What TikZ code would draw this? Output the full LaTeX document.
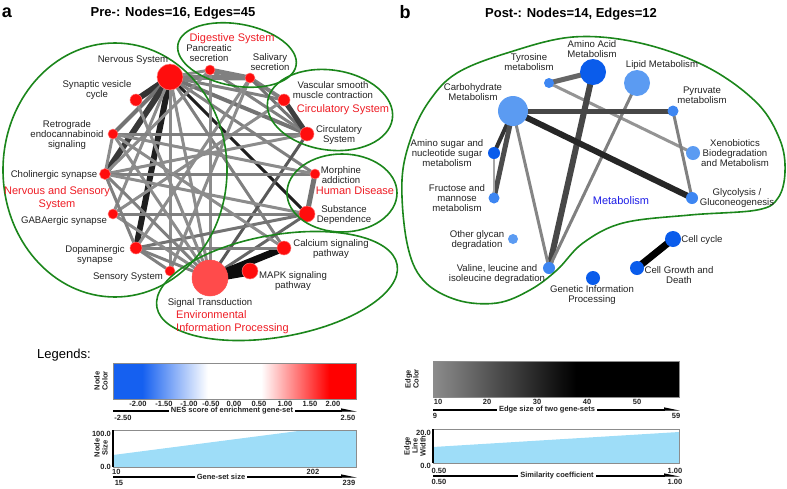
\documentclass[tikz,border=0pt]{standalone}
\usepackage{fontspec}
\setmainfont{Liberation Sans}
\usetikzlibrary{arrows.meta,backgrounds}
\definecolor{NodeRed}{HTML}{FF0D0D}
\definecolor{SigRed}{HTML}{FF4B4B}
\definecolor{HullGreen}{HTML}{1B861B}
\definecolor{GroupRed}{HTML}{EE1C24}
\definecolor{MetaBlue}{HTML}{1C1CE6}
\definecolor{DeepBlue}{HTML}{0A5CEB}
\definecolor{MidBlue}{HTML}{3D86F2}
\definecolor{PaleBlue}{HTML}{5B9BF2}
\definecolor{NesBlue}{HTML}{1560F0}
\definecolor{SizeFill}{HTML}{9EDDF8}
\definecolor{DarkText}{HTML}{222222}
\pgfdeclarehorizontalshading{nesbar}{100bp}{color(0bp)=(NesBlue); color(25bp)=(NesBlue); color(31bp)=(NesBlue); color(44.5bp)=(white); color(55.5bp)=(white); color(69.5bp)=(red); color(75bp)=(red); color(100bp)=(red)}
\pgfdeclarehorizontalshading{edgebar}{100bp}{color(0bp)=(black!45); color(25bp)=(black!45); color(54bp)=(black); color(100bp)=(black)}
\tikzset{
  rnode/.style={circle, fill=NodeRed, draw=NodeRed!55!white, line width=0.5pt, inner sep=0pt, minimum size=#1},
  bnode/.style 2 args={circle, fill=#2, inner sep=0pt, minimum size=#1},
  lnk/.style 2 args={draw=black!#2, line width=#1pt},
  hull/.style={draw=HullGreen, line width=1.6pt},
  lbl/.style={font=\fontsize{9.6}{10.2}\selectfont, text=DarkText, align=center, inner sep=0pt},
  grp/.style={font=\fontsize{11}{12.5}\selectfont, text=GroupRed, align=center, inner sep=0pt},
  ttl/.style={font=\fontsize{13}{15}\bfseries\selectfont, inner sep=0pt},
  pan/.style={font=\fontsize{18}{20}\bfseries\selectfont, inner sep=0pt},
  lg/.style={font=\fontsize{7.5}{8}\bfseries\selectfont, text=DarkText, align=center, inner sep=0pt},
  axarr/.style={line width=1.1pt, -{Triangle[length=13pt,width=5pt,left]}},
  axtxt/.style={lg, fill=white, inner xsep=2pt, inner ysep=1pt}
}
\begin{document}
\begin{tikzpicture}[x=1pt, y=-1pt]
\useasboundingbox (0,0) rectangle (787,488);

% panel titles
\node[pan] (pa) at (7,13) {a};
\node[ttl] (ta) at (173,13) {Pre-: Nodes=16, Edges=45};
\node[pan] (pb) at (405,12) {b};
\node[ttl] (tb) at (571,14) {Post-: Nodes=14, Edges=12};

% ---- pre- network
\node[rnode=26pt] (nerv) at (170,77) {};
\node[rnode=10pt] (panc) at (210,70) {};
\node[rnode=10pt] (saliv) at (250,78) {};
\node[rnode=12pt] (vasc) at (284,100) {};
\node[rnode=14pt] (circ) at (307,134) {};
\node[rnode=10pt] (morph) at (315,174) {};
\node[rnode=16pt] (subst) at (307,214) {};
\node[rnode=14pt] (calc) at (284,248) {};
\node[rnode=16pt] (mapk) at (250,271) {};
\node[rnode=36pt, fill=SigRed, draw=SigRed] (sig) at (210,278) {};
\node[rnode=10pt] (sens) at (170,271) {};
\node[rnode=12pt] (dopa) at (136,248) {};
\node[rnode=10pt] (gaba) at (113,214) {};
\node[rnode=11pt] (chol) at (105,174) {};
\node[rnode=10pt] (retro) at (113,134) {};
\node[rnode=12pt] (synv) at (136,100) {};

\begin{pgfonlayer}{background}
\draw[lnk={6}{80}] (nerv.center) -- (synv.center);
\draw[lnk={4}{55}] (nerv.center) -- (retro.center);
\draw[lnk={6}{78}] (nerv.center) -- (chol.center);
\draw[lnk={6}{88}] (nerv.center) -- (dopa.center);
\draw[lnk={3}{45}] (nerv.center) -- (sens.center);
\draw[lnk={3}{45}] (nerv.center) -- (sig.center);
\draw[lnk={3}{88}] (nerv.center) -- (subst.center);
\draw[lnk={3}{50}] (nerv.center) -- (calc.center);
\draw[lnk={4}{55}] (nerv.center) -- (circ.center);
\draw[lnk={3}{50}] (nerv.center) -- (vasc.center);
\draw[lnk={5}{50}] (nerv.center) -- (saliv.center);
\draw[lnk={3}{45}] (nerv.center) -- (panc.center);
\draw[lnk={3}{50}] (nerv.center) -- (morph.center);
\draw[lnk={3}{45}] (nerv.center) -- (gaba.center);
\draw[lnk={5}{50}] (panc.center) -- (saliv.center);
\draw[lnk={3}{45}] (panc.center) -- (sig.center);
\draw[lnk={3}{50}] (panc.center) -- (circ.center);
\draw[lnk={3}{45}] (panc.center) -- (chol.center);
\draw[lnk={4}{50}] (saliv.center) -- (vasc.center);
\draw[lnk={3}{55}] (saliv.center) -- (circ.center);
\draw[lnk={3}{45}] (saliv.center) -- (dopa.center);
\draw[lnk={3}{45}] (saliv.center) -- (sens.center);
\draw[lnk={5}{75}] (vasc.center) -- (circ.center);
\draw[lnk={3}{45}] (vasc.center) -- (gaba.center);
\draw[lnk={3}{65}] (circ.center) -- (sig.center);
\draw[lnk={3}{50}] (circ.center) -- (retro.center);
\draw[lnk={3}{45}] (circ.center) -- (chol.center);
\draw[lnk={5}{55}] (morph.center) -- (subst.center);
\draw[lnk={3}{50}] (morph.center) -- (chol.center);
\draw[lnk={3}{45}] (morph.center) -- (retro.center);
\draw[lnk={3}{45}] (subst.center) -- (chol.center);
\draw[lnk={3}{50}] (subst.center) -- (gaba.center);
\draw[lnk={3}{55}] (subst.center) -- (dopa.center);
\draw[lnk={3}{60}] (subst.center) -- (sig.center);
\draw[lnk={7}{95}] (sig.center) -- (calc.center);
\draw[lnk={3}{50}] (calc.center) -- (dopa.center);
\draw[lnk={3}{45}] (calc.center) -- (retro.center);
\draw[lnk={9}{95}] (sig.center) -- (mapk.center);
\draw[lnk={3}{50}] (sig.center) -- (dopa.center);
\draw[lnk={3}{45}] (sig.center) -- (gaba.center);
\draw[lnk={3}{50}] (sig.center) -- (chol.center);
\draw[lnk={3}{45}] (sig.center) -- (retro.center);
\draw[lnk={3}{45}] (sig.center) -- (synv.center);
\draw[lnk={3}{50}] (chol.center) -- (dopa.center);
\draw[lnk={3}{45}] (retro.center) -- (chol.center);
\draw[lnk={3}{50}] (dopa.center) -- (sens.center);
\end{pgfonlayer}

% group outlines
\draw[hull] (115,170) ellipse [x radius=112, y radius=127];
\draw[hull, rotate around={-10:(237,55)}] (237,55) ellipse [x radius=60, y radius=31];
\draw[hull, rotate around={-8:(330,110)}] (330,110) ellipse [x radius=63, y radius=40];
\draw[hull] (342,193) ellipse [x radius=55, y radius=39];
\draw[hull, rotate around={10:(277,286)}] (277,286) ellipse [x radius=122, y radius=51];

% node labels
\node[lbl] (lnerv) at (133,60) {Nervous System};
\node[lbl] (lpanc) at (209,53) {Pancreatic\\secretion};
\node[lbl] (lsaliv) at (270,62) {Salivary\\secretion};
\node[lbl] (lvasc) at (333,90) {Vascular smooth\\muscle contraction};
\node[lbl] (lcirc) at (339,135) {Circulatory\\System};
\node[lbl] (lmorph) at (341,175) {Morphine\\addiction};
\node[lbl] (lsubst) at (344,215) {Substance\\Dependence};
\node[lbl] (lcalc) at (331,249) {Calcium signaling\\pathway};
\node[lbl] (lmapk) at (293,281) {MAPK signaling\\pathway};
\node[lbl] (lsig) at (210,303) {Signal Transduction};
\node[lbl] (lsens) at (128,277) {Sensory System};
\node[lbl] (ldopa) at (95,255) {Dopaminergic\\synapse};
\node[lbl] (lgaba) at (64,221) {GABAergic synapse};
\node[lbl] (lchol) at (54,175) {Cholinergic synapse};
\node[lbl] (lretro) at (67,135) {Retrograde\\endocannabinoid\\signaling};
\node[lbl] (lsynv) at (97,90) {Synaptic vesicle\\cycle};

% group labels
\node[grp] (gdig) at (232,39) {Digestive System};
\node[grp] (gcirc) at (343,110) {Circulatory System};
\node[grp] (ghum) at (355,191) {Human Disease};
\node[grp] (gnerv) at (57,198) {Nervous and Sensory\\System};
\node[grp, align=left, anchor=west] (genv) at (176,322) {Environmental\\Information Processing};

% ---- post- network
\node[bnode={26pt}{DeepBlue}] (amino) at (593,72) {};
\node[bnode={10pt}{MidBlue}] (tyro) at (549,83) {};
\node[bnode={26pt}{PaleBlue}] (lipid) at (637,83) {};
\node[bnode={30pt}{PaleBlue}] (carb) at (513,111) {};
\node[bnode={11pt}{MidBlue}] (pyru) at (673,111) {};
\node[bnode={12pt}{DeepBlue}] (amsug) at (494,153) {};
\node[bnode={14pt}{PaleBlue}] (xeno) at (693,153) {};
\node[bnode={11pt}{MidBlue}] (fruc) at (494,198) {};
\node[bnode={12pt}{MidBlue}] (glyc) at (692,198) {};
\node[bnode={10pt}{PaleBlue}] (glycan) at (513,239) {};
\node[bnode={12pt}{MidBlue}] (valine) at (549,268) {};
\node[bnode={14pt}{DeepBlue}] (genet) at (593,278) {};
\node[bnode={14pt}{DeepBlue}] (cgd) at (637,268) {};
\node[bnode={16pt}{DeepBlue}] (ccyc) at (673,239) {};

\begin{pgfonlayer}{background}
\draw[lnk={5}{60}] (tyro.center) -- (amino.center);
\draw[lnk={3}{42}] (tyro.center) -- (xeno.center);
\draw[lnk={6}{72}] (amino.center) -- (valine.center);
\draw[lnk={3}{50}] (lipid.center) -- (valine.center);
\draw[lnk={5}{72}] (carb.center) -- (pyru.center);
\draw[lnk={6}{85}] (carb.center) -- (glyc.center);
\draw[lnk={4}{80}] (carb.center) -- (amsug.center);
\draw[lnk={5}{70}] (carb.center) -- (fruc.center);
\draw[lnk={3}{48}] (carb.center) -- (valine.center);
\draw[lnk={2}{35}] (amsug.center) -- (fruc.center);
\draw[lnk={3}{50}] (pyru.center) -- (glyc.center);
\draw[lnk={7}{100}] (ccyc.center) -- (cgd.center);
\end{pgfonlayer}

\draw[hull] plot[smooth cycle, tension=0.6] coordinates {(402,180) (412,135) (430,100) (457,73) (507,53) (573,37) (640,43) (707,67) (757,103) (780,140) (785,172) (778,198) (757,210) (690,215) (623,223) (583,243) (557,270) (530,290) (497,303) (457,300) (423,280) (407,243)};

\node[lbl] (lamino) at (592,49) {Amino Acid\\Metabolism};
\node[lbl] (ltyro) at (529,62) {Tyrosine\\metabolism};
\node[lbl] (llipid) at (662,65) {Lipid Metabolism};
\node[lbl] (lcarb) at (473,92) {Carbohydrate\\Metabolism};
\node[lbl] (lpyru) at (702,95) {Pyruvate\\metabolism};
\node[lbl] (lamsug) at (447,153) {Amino sugar and\\nucleotide sugar\\metabolism};
\node[lbl] (lxeno) at (735,153) {Xenobiotics\\Biodegradation\\and Metabolism};
\node[lbl] (lfruc) at (457,198) {Fructose and\\mannose\\metabolism};
\node[lbl] (lglyc) at (737,198) {Glycolysis /\\Gluconeogenesis};
\node[lbl] (lglycan) at (477,240) {Other glycan\\degradation};
\node[lbl] (lvaline) at (497,274) {Valine, leucine and\\isoleucine degradation};
\node[lbl] (lgenet) at (592,295) {Genetic Information\\Processing};
\node[lbl] (lcgd) at (679,275) {Cell Growth and\\Death};
\node[lbl] (lccyc) at (702,240) {Cell cycle};
\node[grp, text=MetaBlue] (gmeta) at (621,201) {Metabolism};

% ---- legends
\node[font=\fontsize{13}{15}\selectfont, inner sep=0pt, anchor=west] (leg) at (37,355) {Legends:};

% node colour
\shade[shading=nesbar] (113,363) rectangle (356,399);
\draw[black!45, line width=0.6pt] (113,363) rectangle (356,399);
\node[lg, rotate=90] (ncol) at (101,381) {Node\\Color};
\node[lg] (t1) at (138,404) {-2.00};
\node[lg] (t2) at (164,404) {-1.50};
\node[lg] (t3) at (189,404) {-1.00};
\node[lg] (t4) at (211,404) {-0.50};
\node[lg] (t5) at (234,404) {0.00};
\node[lg] (t6) at (259,404) {0.50};
\node[lg] (t7) at (285,404) {1.00};
\node[lg] (t8) at (310,404) {1.50};
\node[lg] (t9) at (333,404) {2.00};
\coordinate (nesA) at (113,411);
\coordinate (nesB) at (357,411);
\draw[axarr] (nesA) -- (nesB);
\node[axtxt] (nesT) at (232,411) {NES score of enrichment gene-set};
\node[lg] (nesL) at (123,418) {-2.50};
\node[lg] (nesR) at (348,418) {2.50};

% node size
\fill[SizeFill] (113,455) -- (306,430) -- (356,430) -- (356,467) -- (113,467) -- cycle;
\draw[black!45, line width=0.6pt] (113,430) rectangle (356,467);
\draw[line width=1.4pt] (113,430) -- (113,467);
\node[lg, rotate=90] (nsiz) at (101,448) {Node\\Size};
\node[lg, anchor=east] (s100) at (111,434) {100.0};
\node[lg, anchor=east] (s0) at (111,467) {0.0};
\node[lg, anchor=west] (g10) at (112,472) {10};
\node[lg] (g202) at (313,472) {202};
\coordinate (gsA) at (113,477);
\coordinate (gsB) at (357,477);
\draw[axarr] (gsA) -- (gsB);
\node[axtxt] (gsT) at (221,477) {Gene-set size};
\node[lg] (g15) at (119,483) {15};
\node[lg] (g239) at (349,483) {239};

% edge colour
\shade[shading=edgebar] (433,361) rectangle (679,397);
\draw[black!45, line width=0.6pt] (433,361) rectangle (679,397);
\node[lg, rotate=90] (ecol) at (412,379) {Edge\\Color};
\node[lg] (e10) at (438,402) {10};
\node[lg] (e20) at (487,402) {20};
\node[lg] (e30) at (537,402) {30};
\node[lg] (e40) at (587,402) {40};
\node[lg] (e50) at (637,402) {50};
\coordinate (esA) at (433,410);
\coordinate (esB) at (680,410);
\draw[axarr] (esA) -- (esB);
\node[axtxt] (esT) at (547,410) {Edge size of two gene-sets};
\node[lg] (e9) at (435,416) {9};
\node[lg] (e59) at (676,416) {59};

% edge width
\fill[SizeFill] (433,447) -- (679,432) -- (679,463) -- (433,463) -- cycle;
\draw[black!45, line width=0.6pt] (433,429) rectangle (679,463);
\draw[line width=1.4pt] (433,429) -- (433,463);
\node[lg, rotate=90] (ewid) at (415,446) {Edge\\Line\\Width};
\node[lg, anchor=east] (w20) at (431,433) {20.0};
\node[lg, anchor=east] (w0) at (431,466) {0.0};
\node[lg] (c050) at (439,471) {0.50};
\node[lg] (c100) at (675,471) {1.00};
\coordinate (scA) at (433,476);
\coordinate (scB) at (680,476);
\draw[axarr] (scA) -- (scB);
\node[axtxt] (scT) at (557,476) {Similarity coefficient};
\node[lg] (d050) at (439,482) {0.50};
\node[lg] (d100) at (675,482) {1.00};
\end{tikzpicture}
\end{document}
